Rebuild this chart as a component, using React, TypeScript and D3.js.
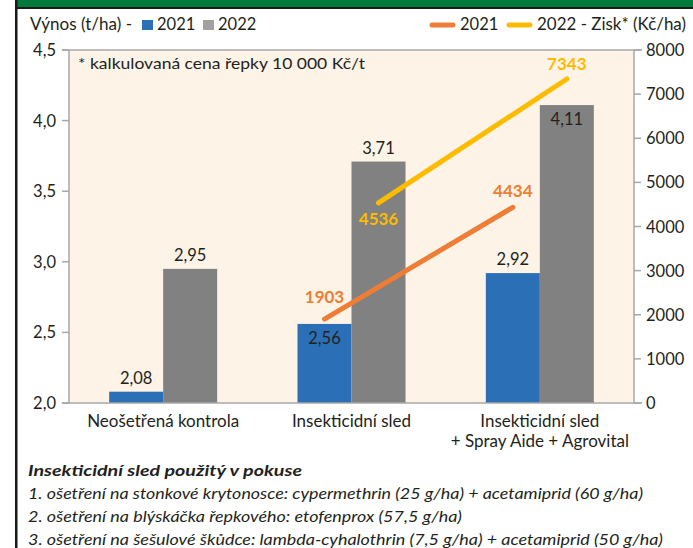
import React from "react";
import * as d3 from "d3";

const categories = ["Neošetřená kontrola", "Insekticidní sled", "Insekticidní sled\n+ Spray Aide + Agrovital"];
const years = ["2021", "2022"];
const yield2021 = [2.08, 2.56, 2.92];
const yield2022 = [2.95, 3.71, 4.11];
const profit2021 = [null, 1903, 4434];
const profit2022 = [null, 4536, 7343];
const leftTicks = [2.0, 2.5, 3.0, 3.5, 4.0, 4.5];
const rightTicks = [0, 1000, 2000, 3000, 4000, 5000, 6000, 7000, 8000];
const footnoteLines = [
  "1. ošetření na stonkové krytonosce: cypermethrin (25 g/ha) + acetamiprid (60 g/ha)",
  "2. ošetření na blýskáčka řepkového: etofenprox (57,5 g/ha)",
  "3. ošetření na šešulové škůdce: lambda-cyhalothrin (7,5 g/ha) + acetamiprid (50 g/ha)",
];

const W = 693, H = 548;
const M = { left: 69, right: 634, top: 50, bottom: 403 };
const FONT = "Lato, 'Open Sans', sans-serif";
const C = {
  blue: "#2b70b7", gray: "#808180", orange: "#ee7d35", yellow: "#fdbb00",
  bg: "#fdf3e7", axis: "#a7a7a7", text: "#231f20", green: "#007a3b",
};

export default function App() {
  const x0 = d3.scaleBand<string>().domain(categories).range([M.left, M.right]);
  const yL = d3.scaleLinear().domain([2.0, 4.5]).range([M.bottom, M.top]);
  const yR = d3.scaleLinear().domain([0, 8000]).range([M.bottom, M.top]);
  const groupHalf = 54;
  const x1 = (cat: string) =>
    d3.scaleBand<string>().domain(years).range([x0(cat)! + x0.bandwidth() / 2 - groupHalf, x0(cat)! + x0.bandwidth() / 2 + groupHalf]);

  const series = [
    { year: "2021", vals: yield2021, color: C.blue, inside: [false, true, false] },
    { year: "2022", vals: yield2022, color: C.gray, inside: [false, false, true] },
  ];
  const lines = [
    { year: "2021", vals: profit2021, color: C.orange, labelDy: [0, -16, -10] },
    { year: "2022", vals: profit2022, color: C.yellow, labelDy: [0, 22, -9] },
  ];
  const fmt = (v: number) => v.toFixed(2).replace(".", ",");
  const lineGen = d3.line<[number, number]>().x((d) => d[0]).y((d) => d[1]);

  return (
    <svg width={W} height={H} style={{ position: "absolute", left: 0, top: 0, background: "#fff" }} fontFamily={FONT}>
      <rect x={0} y={0} width={W} height={H} fill="#fff" />
      {/* header */}
      <rect x={15} y={0} width={W - 15} height={8} fill={C.green} />
      <rect x={15} y={7} width={W - 15} height={2} fill="#1a1a1a" />
      <rect x={15} y={0} width={2.5} height={H} fill="#1a1a1a" />

      {/* legend */}
      <text x={30} y={30} fontSize={16.5} fill={C.text} textLength={102} lengthAdjust="spacingAndGlyphs">Výnos (t/ha) -</text>
      <rect x={142} y={20} width={11} height={10} fill={C.blue} />
      <text x={157} y={30} fontSize={16.5} fill={C.text}>2021</text>
      <rect x={203} y={20} width={11} height={10} fill={C.gray} opacity={0.75} />
      <text x={218} y={30} fontSize={16.5} fill={C.text}>2022</text>
      <line x1={432} x2={453} y1={25} y2={25} stroke={C.orange} strokeWidth={5} strokeLinecap="round" />
      <text x={460} y={30} fontSize={16.5} fill={C.text}>2021</text>
      <line x1={509} x2={530} y1={25} y2={25} stroke={C.yellow} strokeWidth={5} strokeLinecap="round" />
      <text x={537} y={30} fontSize={16.5} fill={C.text} textLength={149} lengthAdjust="spacingAndGlyphs">2022 - Zisk* (Kč/ha)</text>

      {/* plot bg */}
      <rect x={M.left} y={M.top} width={M.right - M.left} height={M.bottom - M.top} fill={C.bg} />
      <text x={78} y={69} fontSize={16} fill={C.text} textLength={287} lengthAdjust="spacingAndGlyphs">* kalkulovaná cena řepky 10 000 Kč/t</text>

      {/* bars */}
      {series.map((s) =>
        categories.map((cat, i) => {
          const xb = x1(cat);
          const bx = xb(s.year)!;
          const bw = xb.bandwidth();
          const top = yL(s.vals[i]);
          const inside = s.inside[i];
          return (
            <g key={s.year + cat}>
              <rect x={bx} y={top} width={bw} height={M.bottom - top} fill={s.color} />
              <text x={bx + bw / 2} y={inside ? top + 20 : top - 8} textAnchor="middle" fontSize={16.5} fill={C.text}>
                {fmt(s.vals[i])}
              </text>
            </g>
          );
        })
      )}

      {/* lines */}
      {lines.map((l) => {
        const pts: [number, number][] = [];
        categories.forEach((cat, i) => {
          const v = l.vals[i];
          if (v == null) return;
          const xb = x1(cat);
          pts.push([xb(l.year)! + xb.bandwidth() / 2, yR(v)]);
        });
        return (
          <g key={l.year}>
            <path d={lineGen(pts) || ""} fill="none" stroke={l.color} strokeWidth={5} strokeLinecap="round" />
          </g>
        );
      })}
      {lines.map((l) =>
        categories.map((cat, i) => {
          const v = l.vals[i];
          if (v == null) return null;
          const xb = x1(cat);
          const cx = xb(l.year)! + xb.bandwidth() / 2;
          return (
            <text key={l.year + cat} x={cx} y={yR(v) + l.labelDy[i]} textAnchor="middle" fontSize={17} fontWeight={700} fill={l.color}>
              {v}
            </text>
          );
        })
      )}

      {/* axes */}
      <line x1={62} x2={642} y1={M.top} y2={M.top} stroke={C.axis} strokeWidth={1.5} />
      <line x1={62} x2={642} y1={M.bottom} y2={M.bottom} stroke={C.axis} strokeWidth={1.5} />
      <line x1={M.left} x2={M.left} y1={M.top} y2={M.bottom} stroke={C.axis} strokeWidth={1.5} />
      <line x1={M.right} x2={M.right} y1={M.top} y2={M.bottom} stroke={C.axis} strokeWidth={1.5} />
      {leftTicks.map((t) => (
        <g key={"l" + t}>
          <line x1={62} x2={M.left} y1={yL(t)} y2={yL(t)} stroke={C.axis} strokeWidth={1.5} />
          <text x={56} y={yL(t) + 6} textAnchor="end" fontSize={16.5} fill={C.text}>
            {t.toFixed(1).replace(".", ",")}
          </text>
        </g>
      ))}
      {rightTicks.map((t) => (
        <g key={"r" + t}>
          <line x1={M.right} x2={641} y1={yR(t)} y2={yR(t)} stroke={C.axis} strokeWidth={1.5} />
          <text x={646} y={yR(t) + 6} textAnchor="start" fontSize={16.5} fill={C.text}>
            {t}
          </text>
        </g>
      ))}
      {categories.map((cat) => {
        const cx = x0(cat)! + x0.bandwidth() / 2;
        return (
          <text key={cat} x={cx} y={427} textAnchor="middle" fontSize={17} fill={C.text}>
            {cat.split("\n").map((ln, j) => (
              <tspan key={j} x={cx} dy={j === 0 ? 0 : 20}>{ln}</tspan>
            ))}
          </text>
        );
      })}

      {/* footnote */}
      <text x={28} y={476} fontSize={16} fontWeight={700} fontStyle="italic" fill={C.text} textLength={274} lengthAdjust="spacingAndGlyphs">
        Insekticidní sled použitý v pokuse
      </text>
      {footnoteLines.map((ln, i) => (
        <text key={i} x={28} y={499 + i * 23} fontSize={16} fontStyle="italic" fill={C.text}
          textLength={[615, 434, 635][i]} lengthAdjust="spacingAndGlyphs">
          {ln}
        </text>
      ))}
    </svg>
  );
}
